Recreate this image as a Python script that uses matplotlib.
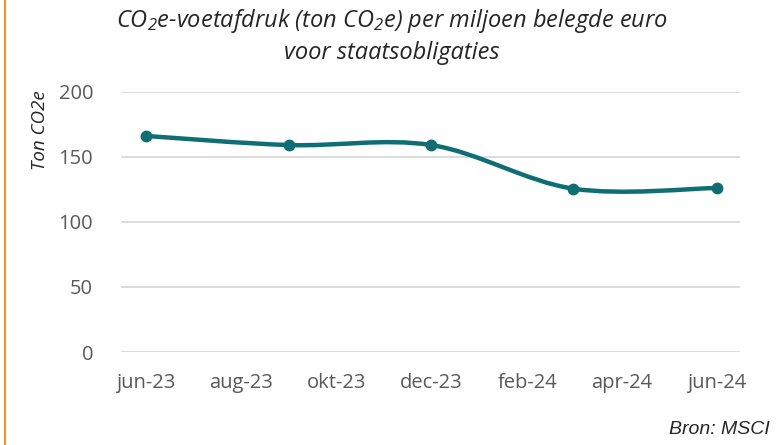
import datetime as dt

import matplotlib

matplotlib.use("Agg")
import matplotlib.dates as mdates
import matplotlib.pyplot as plt
import numpy as np
from matplotlib.lines import Line2D
from matplotlib.patches import PathPatch
from matplotlib.path import Path

# data (quarterly)
dates = [dt.date(2023, 6, 1), dt.date(2023, 9, 1), dt.date(2023, 12, 1),
         dt.date(2024, 3, 1), dt.date(2024, 6, 1)]
values = [166, 159, 159, 125.5, 126]

tick_dates = [dt.date(2023, 6, 1), dt.date(2023, 8, 1), dt.date(2023, 10, 1),
              dt.date(2023, 12, 1), dt.date(2024, 2, 1), dt.date(2024, 4, 1),
              dt.date(2024, 6, 1)]
tick_labels = ["jun-23", "aug-23", "okt-23", "dec-23", "feb-24", "apr-24", "jun-24"]
y_ticks = [0, 50, 100, 150, 200]

LINE = "#0F6E73"
GRID = "#D9D9D9"
TEXT = "#595959"
DARK = "#262626"
ORANGE = "#F5922F"

plt.rcParams["font.family"] = ["Open Sans", "DejaVu Sans"]
plt.rcParams["mathtext.fontset"] = "custom"
plt.rcParams["mathtext.rm"] = "Open Sans:italic"
plt.rcParams["mathtext.it"] = "Open Sans:italic"

fig = plt.figure(figsize=(7.77, 4.45), dpi=100)
ax = fig.add_axes([121 / 777, 1 - 352 / 445, (740 - 121) / 777, (352 - 91.7) / 445])

x = mdates.date2num(dates)
y = np.array(values, dtype=float)

# Excel-style smoothed line: cubic bezier segments (Catmull-Rom control points)
pts = np.column_stack([x, y])
ext = np.vstack([pts[0], pts, pts[-1]])
verts = [tuple(pts[0])]
codes = [Path.MOVETO]
for i in range(1, len(ext) - 2):
    p0, p1, p2, p3 = ext[i - 1], ext[i], ext[i + 1], ext[i + 2]
    c1 = p1 + (p2 - p0) / 6.0
    c2 = p2 - (p3 - p1) / 6.0
    verts += [tuple(c1), tuple(c2), tuple(p2)]
    codes += [Path.CURVE4] * 3
ax.add_patch(PathPatch(Path(verts, codes), facecolor="none", edgecolor=LINE,
                       linewidth=3.2, capstyle="round", zorder=3, clip_on=False))
ax.plot(x, y, linestyle="none", marker="o", markersize=7.5, color=LINE, zorder=4,
        clip_on=False)

ax.set_xlim(mdates.date2num(dt.date(2023, 5, 16)), mdates.date2num(dt.date(2024, 6, 16)))
ax.set_ylim(0, 200)
ax.set_xticks(mdates.date2num(tick_dates))
ax.set_xticklabels(tick_labels)
ax.set_yticks(y_ticks)
ax.tick_params(axis="both", length=0, labelsize=14.5, labelcolor=TEXT)
ax.tick_params(axis="x", pad=15)
ax.tick_params(axis="y", pad=20)
ax.grid(axis="y", color=GRID, linewidth=1.3)
ax.set_axisbelow(True)
for s in ax.spines.values():
    s.set_visible(False)

fig.text(392 / 777, 1 - 21 / 445, r"CO$_2$e-voetafdruk (ton CO$_2$e) per miljoen belegde euro",
         ha="center", va="center", fontsize=17, style="italic", color=DARK)
fig.text(392 / 777, 1 - 53 / 445, "voor staatsobligaties",
         ha="center", va="center", fontsize=17, style="italic", color=DARK)
fig.text(40 / 777, 1 - 130 / 445, "Ton CO2e", rotation=90, ha="center", va="center",
         fontsize=13.5, style="italic", color=DARK)
fig.text(770 / 777, 1 - 429 / 445, "Bron: MSCI", ha="right", va="center",
         fontsize=14, style="italic", family="Liberation Sans", color=DARK)

fig.add_artist(Line2D([5 / 777, 5 / 777], [0, 1], color=ORANGE, linewidth=1.5))

fig.savefig("out.png", dpi=100)
plt.close(fig)
